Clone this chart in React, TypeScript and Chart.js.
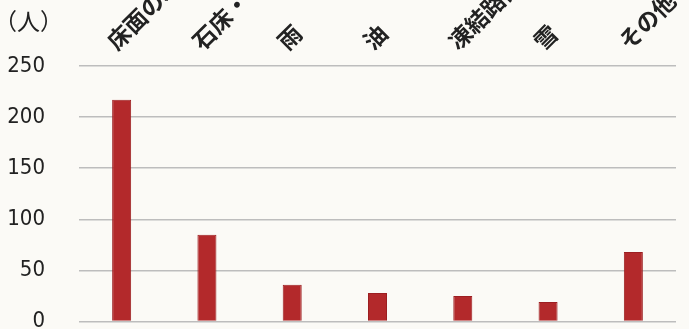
import { useEffect, useRef } from "react";
import { Chart, registerables } from "chart.js";

Chart.register(...registerables);

const categories = ["床面の水", "石床・タイル", "雨", "油", "凍結路面", "雪", "その他"];
const counts = [217, 85, 36, 28, 25, 19, 68];
const yTicks = [0, 50, 100, 150, 200, 250];
const unitLabel = "（人）";

export default function App() {
  const canvasRef = useRef<HTMLCanvasElement | null>(null);

  useEffect(() => {
    const canvas = canvasRef.current;
    if (!canvas) return;
    const chart = new Chart(canvas, {
      type: "bar",
      data: {
        labels: categories,
        datasets: [
          {
            data: counts,
            backgroundColor: "#b3292b",
            borderColor: "#9c1f22",
            borderWidth: 1,
            barPercentage: 0.223,
            categoryPercentage: 1,
          },
        ],
      },
      options: {
        animation: false,
        responsive: false,
        maintainAspectRatio: false,
        layout: { padding: { left: 0, right: 13, top: 0, bottom: 7.5 } },
        plugins: {
          legend: { display: false },
          tooltip: { enabled: false },
        },
        scales: {
          x: {
            position: "top",
            grid: { display: false, drawTicks: false },
            border: { display: false },
            ticks: {
              autoSkip: false,
              minRotation: 45,
              maxRotation: 45,
              padding: 11,
              labelOffset: 9,
              color: "#222",
              font: { family: "'Noto Sans CJK JP', sans-serif", size: 23, weight: "bold" },
            },
            afterFit: (scale: any) => {
              scale.height = 66;
              scale.paddingLeft = 0;
              scale.paddingRight = 0;
            },
          },
          y: {
            min: 0,
            max: 250,
            grid: { color: "#bdbdbd", lineWidth: 1.5, drawTicks: false },
            border: { display: false },
            afterBuildTicks: (scale: any) => {
              scale.ticks = yTicks.map((v) => ({ value: v }));
            },
            ticks: {
              padding: 34,
              color: "#222",
              font: {
                family: "'Liberation Sans Narrow', 'DejaVu Sans Condensed', sans-serif",
                size: 22,
              },
            },
            afterFit: (scale: any) => {
              scale.width = 79;
              scale.paddingTop = 0;
              scale.paddingBottom = 0;
            },
          },
        },
      },
    });
    return () => chart.destroy();
  }, []);

  return (
    <div
      style={{
        position: "fixed",
        left: 0,
        top: 0,
        width: 689,
        height: 329,
        background: "#fbfaf6",
        overflow: "hidden",
      }}
    >
      <canvas ref={canvasRef} width={689} height={329} style={{ display: "block" }} />
      <div
        style={{
          position: "absolute",
          left: -6,
          top: 6,
          fontFamily: "'Noto Sans CJK JP', sans-serif",
          fontSize: 23,
          color: "#222",
          lineHeight: "28px",
          whiteSpace: "nowrap",
        }}
      >
        {unitLabel}
      </div>
    </div>
  );
}
